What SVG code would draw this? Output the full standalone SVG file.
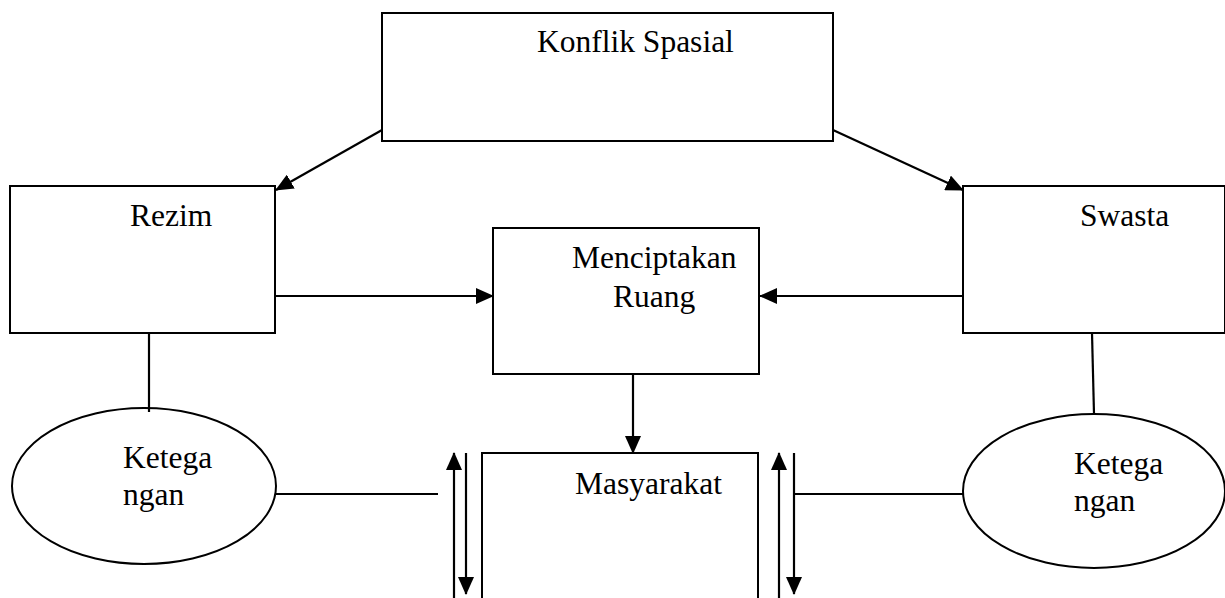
<svg xmlns="http://www.w3.org/2000/svg" width="1225" height="598" viewBox="0 0 1225 598">
<style>
.box{fill:#fff;stroke:#000;stroke-width:2}
.ln{fill:none;stroke:#000;stroke-width:2.2}
text{font-family:'Liberation Serif','Times New Roman','DejaVu Serif',serif;font-size:31.5px;fill:#000}
</style>
<defs>
<marker id="ah" markerUnits="userSpaceOnUse" markerWidth="18" markerHeight="16" refX="17" refY="8" orient="auto">
<path d="M0,0 L18,8 L0,16 Z" fill="#000"/>
</marker>
</defs>
<rect width="1225" height="598" fill="#fff"/>
<g font-family="Liberation Serif, Times New Roman, serif">
<g id="konflik"><rect class="box" x="382" y="13" width="451" height="128"/><text x="537" y="52">Konflik Spasial</text></g>
<g id="rezim"><rect class="box" x="10" y="186" width="265" height="147"/><text x="130" y="226">Rezim</text></g>
<g id="swasta"><rect class="box" x="963" y="186" width="262" height="147"/><text x="1080" y="226">Swasta</text></g>
<g id="menciptakan"><rect class="box" x="493" y="228" width="266" height="146"/><text x="572" y="268">Menciptakan</text><text x="613" y="307">Ruang</text></g>
<g id="masyarakat"><rect class="box" x="482" y="453" width="276" height="160"/><text x="575" y="494">Masyarakat</text></g>
<g id="ketegangan-kiri"><ellipse class="box" cx="144" cy="486" rx="132" ry="78"/><text x="123" y="468">Ketega</text><text x="123" y="505">ngan</text></g>
<g id="ketegangan-kanan"><ellipse class="box" cx="1094" cy="491" rx="131" ry="77"/><text x="1074" y="474">Ketega</text><text x="1074" y="511">ngan</text></g>
</g>
<g id="connectors">
<line class="ln" x1="382" y1="130" x2="276" y2="190" marker-end="url(#ah)"/>
<line class="ln" x1="833" y1="130" x2="963" y2="190" marker-end="url(#ah)"/>
<line class="ln" x1="275" y1="296" x2="493" y2="296" marker-end="url(#ah)"/>
<line class="ln" x1="963" y1="296" x2="760" y2="296" marker-end="url(#ah)"/>
<line class="ln" x1="633" y1="374" x2="633" y2="453" marker-end="url(#ah)"/>
<line class="ln" x1="149" y1="333" x2="149" y2="412"/>
<line class="ln" x1="1092" y1="333" x2="1094" y2="414"/>
<line class="ln" x1="276" y1="494" x2="438" y2="494"/>
<line class="ln" x1="794" y1="494" x2="963" y2="494"/>
<line class="ln" x1="454" y1="600" x2="454" y2="453" marker-end="url(#ah)"/>
<line class="ln" x1="466" y1="453" x2="466" y2="594" marker-end="url(#ah)"/>
<line class="ln" x1="779" y1="600" x2="779" y2="453" marker-end="url(#ah)"/>
<line class="ln" x1="794" y1="453" x2="794" y2="594" marker-end="url(#ah)"/>
</g>
</svg>
